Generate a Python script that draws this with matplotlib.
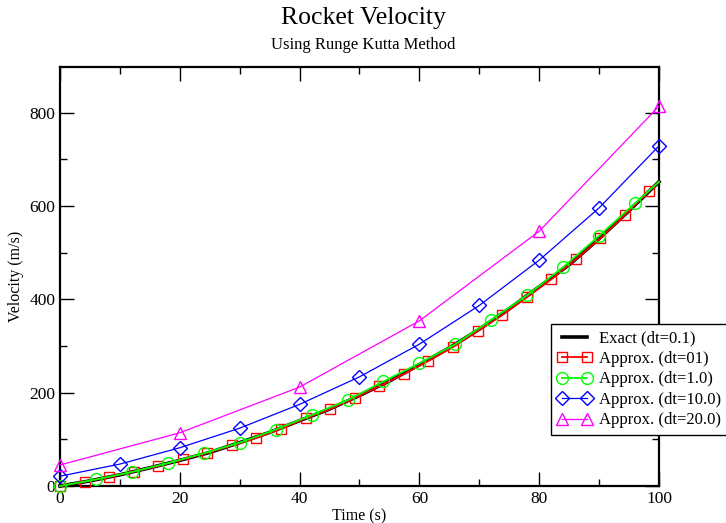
import matplotlib
matplotlib.use("Agg")
import matplotlib.pyplot as plt
import numpy as np

plt.rcParams['font.family'] = ['Liberation Serif', 'DejaVu Serif']

exactT = [0, 5, 10, 15, 20, 25, 30, 35, 40, 45, 50, 55, 60, 65, 70, 75, 80, 85, 90, 95, 100]
exactV = [0, 11, 24, 39, 55, 72, 93, 115, 140, 165, 194, 225, 260, 296, 336, 380, 427, 474, 530, 590, 652]

# dt=01 series, sampled where its symbols sit (every 4.1 s) plus the end point
redT = [0, 4.1, 8.2, 12.3, 16.4, 20.5, 24.6, 28.7, 32.8, 36.9, 41.0, 45.1, 49.2,
        53.3, 57.4, 61.5, 65.6, 69.7, 73.8, 77.9, 82.0, 86.1, 90.2, 94.3, 98.4, 100]
redV = [0, 9, 19, 31, 43, 57, 71, 87, 103, 123, 145, 165, 189,
        214, 240, 268, 298, 332, 366, 404, 443, 486, 531, 581, 633, 652]

# dt=1.0 series, symbols every 6 s plus the end point
greenT = [0, 6, 12, 18, 24, 30, 36, 42, 48, 54, 60, 66, 72, 78, 84, 90, 96, 100]
greenV = [0, 14, 30, 49, 70, 93, 121, 152, 184, 224, 263, 304, 356, 409, 469, 536, 606, 652]

# dt=10.0
blueT = [0, 10, 20, 30, 40, 50, 60, 70, 80, 90, 100]
blueV = [21, 47, 82, 124, 175, 234, 304, 387, 484, 596, 729]

# dt=20.0
magT = [0, 20, 40, 60, 80, 100]
magV = [45, 114, 212, 354, 546, 814]

fig = plt.figure(figsize=(7.26, 5.23), dpi=100)
ax = fig.add_axes([60/726, 1 - 486/523, 599/726, 419/523])

ax.plot(exactT, exactV, color='black', lw=2.6, label='Exact (dt=0.1)', clip_on=False, zorder=2)
ax.plot(redT, redV, color='#ff0000', lw=1.3, marker='s', ms=7.5, mfc='none', mew=1,
        markevery=list(range(len(redT) - 1)), label='Approx. (dt=01)', clip_on=False, zorder=3)
ax.plot(greenT, greenV, color='#00ff00', lw=1.3, marker='o', ms=8.5, mfc='none', mew=1,
        markevery=list(range(len(greenT) - 1)), label='Approx. (dt=1.0)', clip_on=False, zorder=4)
ax.plot(blueT, blueV, color='#0000ff', lw=0.9, marker='D', ms=7, mfc='none', mew=1,
        label='Approx. (dt=10.0)', clip_on=False, zorder=5)
ax.plot(magT, magV, color='#ff00ff', lw=0.9, marker='^', ms=9, mfc='none', mew=1,
        label='Approx. (dt=20.0)', clip_on=False, zorder=6)

ax.set_xlim(0, 100)
ax.set_ylim(0, 898)
ax.set_xticks(np.arange(0, 101, 20))
ax.set_xticks(np.arange(0, 101, 10), minor=True)
ax.set_yticks(np.arange(0, 801, 200))
ax.set_yticks(np.arange(0, 898, 100), minor=True)
ax.tick_params(which='both', direction='in', top=True, right=True, labelsize=12.5, width=1.0)
ax.tick_params(which='major', length=10)
ax.tick_params(which='minor', length=5)
for s in ax.spines.values():
    s.set_linewidth(1.6)

ax.set_xlabel('Time (s)', fontsize=11.5, labelpad=1)
ax.set_ylabel('Velocity (m/s)', fontsize=11.5, labelpad=4)

fig.text(0.5, 1 - 18/523, 'Rocket Velocity', ha='center', va='center', fontsize=18.5)
fig.text(0.5, 1 - 45/523, 'Using Runge Kutta Method', ha='center', va='center', fontsize=12)

leg = ax.legend(loc='upper left', bbox_to_anchor=(551/726, 1 - 324/523), bbox_transform=fig.transFigure,
                borderaxespad=0, numpoints=2, handlelength=2.1, fancybox=False, framealpha=1,
                edgecolor='black', fontsize=12, labelspacing=0.27, handletextpad=0.42, borderpad=0.38)
leg.get_frame().set_linewidth(1.0)
leg.set_zorder(10)

fig.savefig('out.png', dpi=100)
